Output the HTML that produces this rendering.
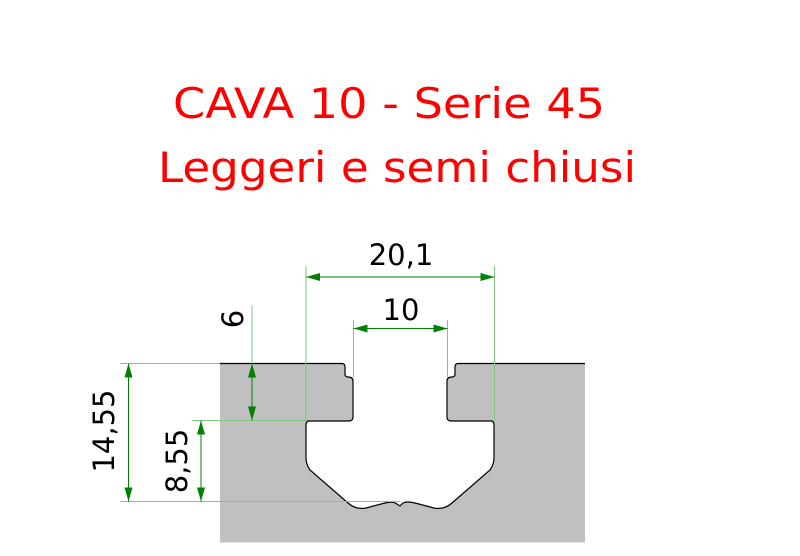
<!DOCTYPE html>
<html><head><style>html,body{margin:0;padding:0;background:#fff}svg{display:block}</style></head>
<body>
<svg width="800" height="556" viewBox="0 0 800 556" xmlns="http://www.w3.org/2000/svg">
<defs>
<marker id="a" viewBox="0 0 14 8" refX="14" refY="4" markerWidth="14" markerHeight="8" markerUnits="userSpaceOnUse" orient="auto-start-reverse">
<path d="M0,0 L14,4 L0,8 Z" fill="#008000"/></marker>
</defs>
<g font-family="DejaVu Sans, Liberation Sans, sans-serif" fill="#ff0000" font-size="42" text-anchor="middle">
<text x="389" y="118" textLength="432" lengthAdjust="spacingAndGlyphs">CAVA 10 - Serie 45</text>
<text x="397" y="182" textLength="478" lengthAdjust="spacingAndGlyphs">Leggeri e semi chiusi</text>
</g>
<rect x="220" y="363.5" width="365" height="179" fill="#c0c0c0"/>
<path d="M342,363.5 Q345,363.5 345,367 L345,374 Q345,377 348,377 Q353,377 353,381 L353,417 Q353,421 349,421 L309,421 Q306,421 306,425 L306,458 Q306,464 310,470 L348,503 Q356,510 366,508 L385,503 Q393,501 397,504 L400,506 L403,503 Q407,501 415,503 L434,508 Q444,510 452,503 L490,470 Q494,464 494,458 L494,425 Q494,421 491,421 L451,421 Q447,421 447,417 L447,381 Q447,377 452,377 Q455,377 455,374 L455,367 Q455,363.5 458,363.5 Z" fill="#fff" stroke="none"/>
<path d="M220,363.5 L342,363.5 Q345,363.5 345,367 L345,374 Q345,377 348,377 Q353,377 353,381 L353,417 Q353,421 349,421 L309,421 Q306,421 306,425 L306,458 Q306,464 310,470 L348,503 Q356,510 366,508 L385,503 Q393,501 397,504 L400,506 L403,503 Q407,501 415,503 L434,508 Q444,510 452,503 L490,470 Q494,464 494,458 L494,425 Q494,421 491,421 L451,421 Q447,421 447,417 L447,381 Q447,377 452,377 Q455,377 455,374 L455,367 Q455,363.5 458,363.5 L585,363.5" fill="none" stroke="#000" stroke-width="1.2"/>
<g stroke="#80c880" stroke-width="1" fill="none">
<line x1="306" y1="266" x2="306" y2="421"/>
<line x1="494.5" y1="266" x2="494.5" y2="421"/>
<line x1="353.5" y1="320" x2="353.5" y2="377"/>
<line x1="447.5" y1="320" x2="447.5" y2="377"/>
<line x1="252" y1="305" x2="252" y2="421"/>
<line x1="120" y1="363.5" x2="220" y2="363.5"/>
<line x1="120" y1="501.5" x2="400" y2="501.5"/>
<line x1="192" y1="420.5" x2="306" y2="420.5"/>
</g>
<g stroke="#008000" stroke-width="1" fill="none">
<line x1="306" y1="277" x2="494.5" y2="277" marker-start="url(#a)" marker-end="url(#a)"/>
<line x1="353.5" y1="328.5" x2="447.5" y2="328.5" marker-start="url(#a)" marker-end="url(#a)"/>
<line x1="252" y1="363.5" x2="252" y2="420.5" marker-start="url(#a)" marker-end="url(#a)"/>
<line x1="128.5" y1="363.5" x2="128.5" y2="501.5" marker-start="url(#a)" marker-end="url(#a)"/>
<line x1="201" y1="420.5" x2="201" y2="501.5" marker-start="url(#a)" marker-end="url(#a)"/>
</g>
<g font-family="DejaVu Sans, Liberation Sans, sans-serif" font-size="29" fill="#000" text-anchor="middle">
<text x="401" y="265">20,1</text>
<text x="401" y="320">10</text>
<text transform="translate(243,319) rotate(-90)">6</text>
<text transform="translate(114,431) rotate(-90)">14,55</text>
<text transform="translate(187,461) rotate(-90)">8,55</text>
</g>
</svg>
</body></html>
